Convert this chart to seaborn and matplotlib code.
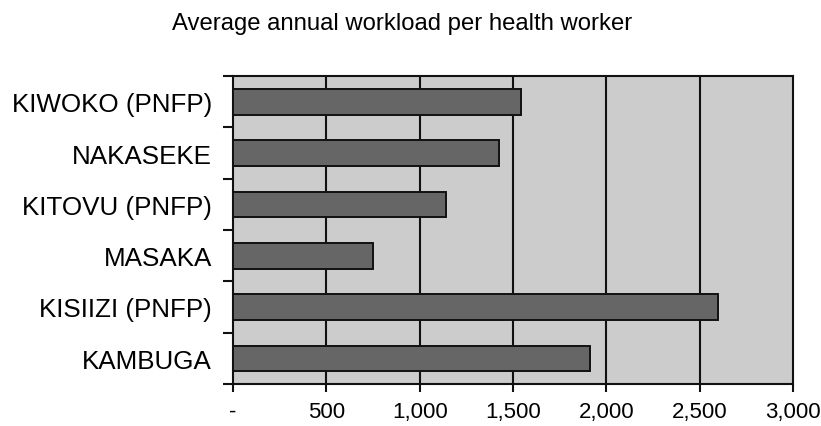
import matplotlib
matplotlib.use("Agg")
import matplotlib.pyplot as plt
from matplotlib.ticker import FixedLocator, FuncFormatter
import seaborn as sns
import pandas as pd

facilities = ["KIWOKO (PNFP)", "NAKASEKE", "KITOVU (PNFP)", "MASAKA",
              "KISIIZI (PNFP)", "KAMBUGA"]
workload = [1543, 1425, 1142, 752, 2600, 1915]
x_ticks = [0, 500, 1000, 1500, 2000, 2500, 3000]

df = pd.DataFrame({"facility": facilities, "workload": workload})

sns.set_style("white", {"axes.facecolor": "#cccccc"})
plt.rcParams["font.family"] = ["Liberation Sans", "DejaVu Sans"]

fig = plt.figure(figsize=(8.21, 4.27), dpi=100)
ax = fig.add_axes([233 / 821, 1 - 385 / 427, 560 / 821, 308 / 427])

sns.barplot(data=df, x="workload", y="facility", orient="h", ax=ax,
            color="#666666", edgecolor="#111111", linewidth=1.4,
            width=0.5, saturation=1, zorder=3)

ax.set_xlim(0, 3000)
ax.set_ylim(len(facilities) - 0.5, -0.5)

# vertical gridlines at every x tick
ax.xaxis.set_major_locator(FixedLocator(x_ticks))
ax.xaxis.set_major_formatter(
    FuncFormatter(lambda v, _: "-" if v == 0 else f"{int(v):,}"))
for v in x_ticks[1:-1]:
    ax.axvline(v, color="#111111", lw=1.5, zorder=2)

# category boundaries carry the left-hand tick marks
ax.yaxis.set_minor_locator(
    FixedLocator([i - 0.5 for i in range(len(facilities) + 1)]))
ax.tick_params(axis="y", which="major", length=0, pad=15, labelsize=18.7,
               labelcolor="#000000")
ax.tick_params(axis="y", which="minor", length=7, width=1.5,
               color="#111111", left=True, direction="out")
ax.tick_params(axis="x", which="major", length=6, width=1.5,
               color="#111111", bottom=True, direction="out", pad=6,
               labelsize=16, labelcolor="#000000")

for side in ["left", "right", "top", "bottom"]:
    ax.spines[side].set_visible(True)
    ax.spines[side].set_color("#111111")
    ax.spines[side].set_linewidth(1.5)

ax.set_xlabel("")
ax.set_ylabel("")

fig.text(402 / 821, 1 - 24 / 427, "Average annual workload per health worker",
         ha="center", va="center", fontsize=17.2, color="#000000")

fig.savefig("out.png", dpi=100, facecolor="white")
